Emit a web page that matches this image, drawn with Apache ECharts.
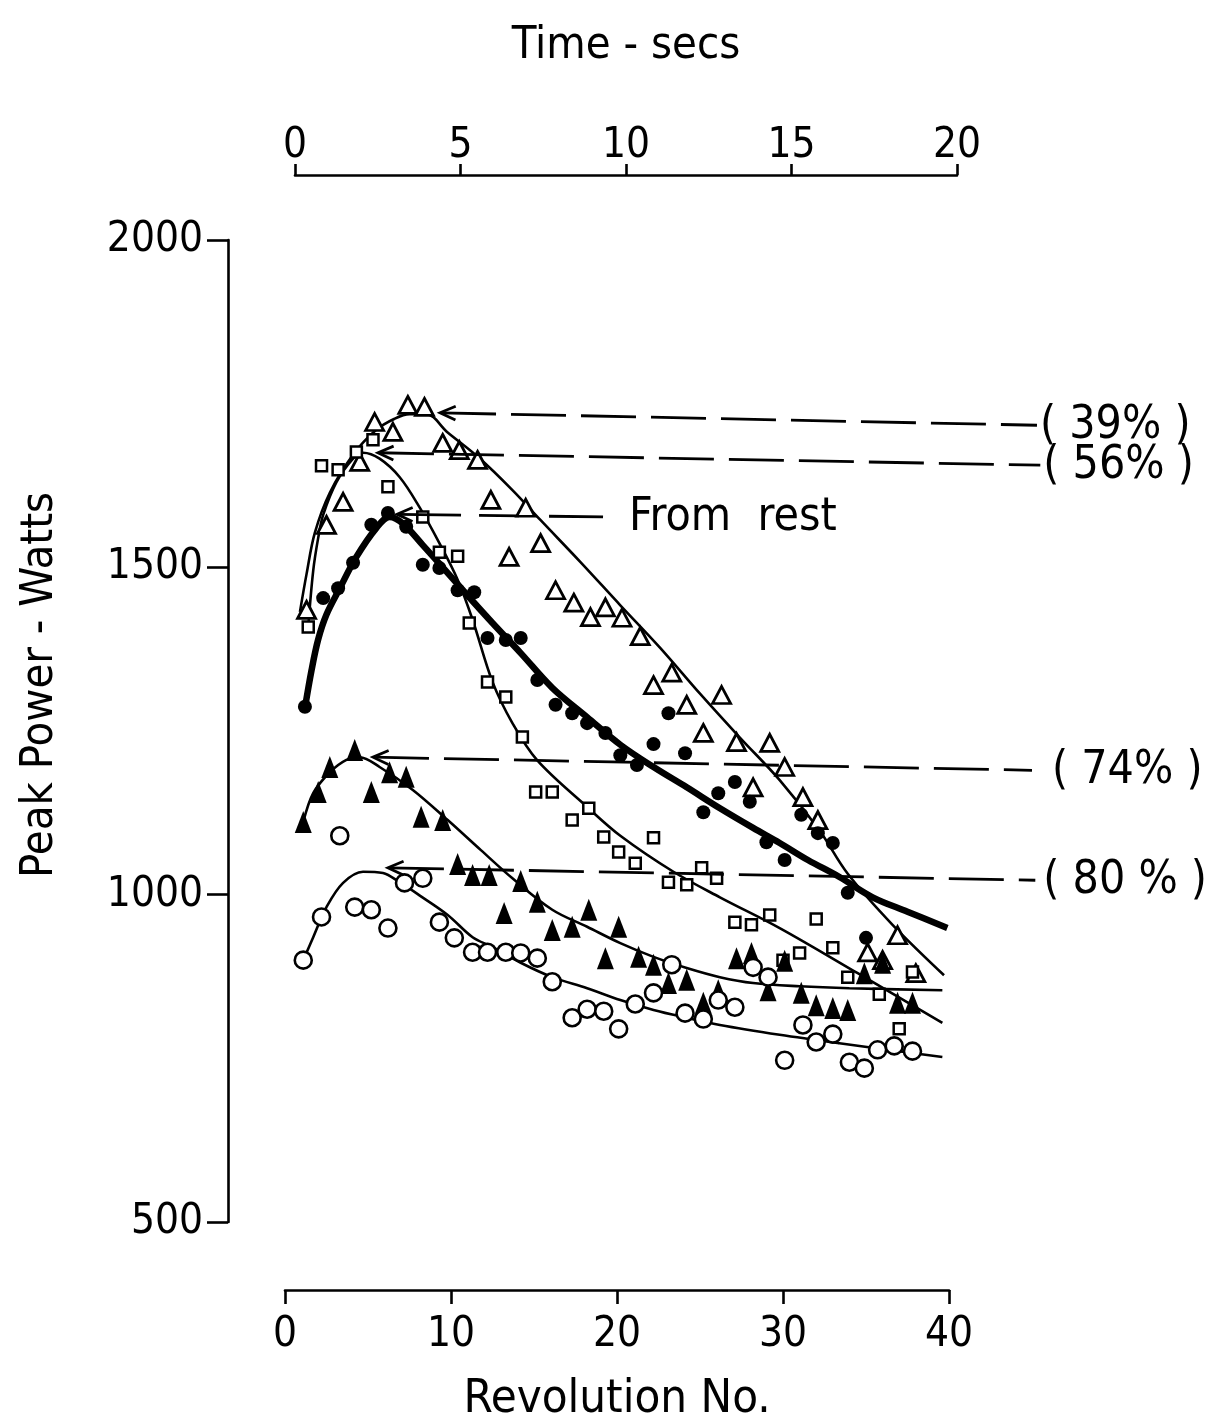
<!DOCTYPE html>
<html><head><meta charset="utf-8">
<script src="https://cdn.jsdelivr.net/npm/echarts@6/dist/echarts.min.js"></script>
<style>html,body{margin:0;padding:0;background:#fff}#c{width:1211px;height:1428px}</style>
</head><body><div id="c"></div>
<script>
const FONT = "'DejaVu Sans Condensed','Liberation Sans Narrow',sans-serif";

// axis ticks
const revTicks = [0, 10, 20, 30, 40];
const timeTicks = [0, 5, 10, 15, 20];
const powerTicks = [500, 1000, 1500, 2000];

// measured points [revolution, watts]
const openTri39 = [[1.3,1435],[2.5,1565],[3.5,1600],[4.5,1661],[5.4,1722],[6.5,1707],[7.4,1748],[8.4,1745],[9.5,1690],[10.5,1679],[11.6,1664],[12.4,1603],[13.5,1516],[14.5,1591],[15.4,1537],[16.3,1465],[17.4,1446],[18.4,1424],[19.3,1439],[20.3,1423],[21.4,1395],[22.2,1320],[23.3,1339],[24.2,1290],[25.2,1247],[26.3,1305],[27.2,1233],[28.2,1164],[29.2,1232],[30.1,1195],[31.2,1149],[32.1,1114],[35.1,912],[36.0,900],[36.9,938],[38.0,880]];
const openSq56 = [[1.4,1409],[2.2,1655],[3.2,1649],[4.3,1676],[5.3,1695],[6.2,1623],[8.3,1577],[9.3,1523],[10.4,1517],[11.1,1415],[12.2,1325],[13.3,1302],[14.3,1241],[15.1,1157],[16.1,1157],[17.3,1114],[18.3,1132],[19.2,1088],[20.1,1065],[21.1,1048],[22.2,1087],[23.1,1019],[24.2,1015],[25.1,1041],[26.0,1025],[27.1,958],[28.1,954],[29.2,969],[30.0,900],[31.0,911],[32.0,963],[33.0,919],[33.9,874],[35.8,848],[37.0,795],[37.8,882]];
const fromRestPts = [[1.2,1287],[2.3,1453],[3.2,1468],[4.1,1507],[5.2,1565],[6.2,1583],[7.3,1562],[8.3,1504],[9.3,1499],[10.4,1465],[11.4,1462],[12.2,1392],[13.3,1389],[14.2,1392],[15.2,1328],[16.3,1290],[17.3,1277],[18.2,1262],[19.3,1247],[20.2,1213],[21.2,1198],[22.2,1230],[23.1,1277],[24.1,1216],[25.2,1126],[26.1,1155],[27.1,1172],[28.0,1142],[29.0,1080],[30.1,1053],[31.1,1122],[32.1,1094],[33.0,1079],[33.9,1003],[35.0,934]];
const filledTri74 = [[1.1,1111],[2.0,1157],[2.7,1195],[4.2,1221],[5.2,1157],[6.3,1187],[7.3,1180],[8.2,1119],[9.5,1114],[10.4,1047],[11.3,1030],[12.3,1030],[13.2,972],[14.2,1021],[15.2,989],[16.1,946],[17.3,951],[18.3,977],[19.3,903],[20.1,951],[21.3,905],[22.2,893],[23.1,865],[24.2,870],[25.2,835],[26.1,854],[27.2,903],[28.1,911],[29.1,854],[30.1,899],[31.1,850],[32.0,831],[33.0,827],[33.9,824],[34.9,880],[36.0,896],[36.9,835],[37.8,835]];
const openCirc80 = [[1.1,900],[2.2,966],[3.3,1090],[4.2,981],[5.2,977],[6.2,949],[7.2,1018],[8.3,1025],[9.3,958],[10.2,934],[11.3,912],[12.2,912],[13.3,912],[14.2,911],[15.2,903],[16.1,867],[17.3,812],[18.2,825],[19.2,822],[20.1,795],[21.1,833],[22.2,850],[23.3,893],[24.1,819],[25.2,810],[26.1,839],[27.1,828],[28.2,889],[29.1,874],[30.1,747],[31.2,801],[32.0,775],[33.0,787],[34.0,744],[34.9,735],[35.7,763],[36.7,769],[37.8,761]];

// fitted curves [revolution, watts]
const curve39 = [[0.9,1432],[1.3,1490],[1.8,1553],[2.7,1614],[4.1,1672],[5.5,1710],[6.6,1727],[7.5,1734],[8.5,1734],[9.8,1706],[11.7,1667],[13.7,1618],[15.4,1572],[17.8,1508],[20.2,1442],[22.6,1377],[25.0,1307],[27.4,1240],[29.8,1175],[32.2,1098],[33.9,1032],[36.6,954],[39.7,877]];
const curve56 = [[1.4,1409],[1.7,1495],[2.0,1545],[2.3,1580],[3.1,1630],[4.1,1666],[4.7,1675],[5.7,1666],[6.9,1638],[8.1,1592],[9.3,1537],[10.4,1481],[11.3,1420],[12.5,1325],[13.7,1262],[15.2,1205],[18.2,1134],[20.2,1090],[23.4,1035],[26.2,996],[29.8,949],[34.5,880],[39.6,804]];
const curveRest = [[1.2,1285],[1.6,1343],[2.0,1390],[2.5,1428],[3.3,1468],[4.3,1516],[5.5,1560],[6.3,1577],[7.1,1567],[8.3,1534],[9.5,1500],[11.0,1457],[12.5,1415],[14.2,1369],[16.1,1316],[18.2,1271],[20.2,1229],[22.2,1195],[24.2,1164],[26.2,1132],[28.2,1102],[29.8,1079],[31.5,1053],[33.4,1027],[35.4,996],[37.5,974],[39.9,949]];
const curve74 = [[1.1,1111],[1.7,1155],[2.7,1187],[3.7,1206],[4.5,1210],[5.7,1195],[7.7,1160],[9.8,1114],[11.8,1068],[13.7,1025],[16.1,977],[18.2,951],[20.2,926],[22.2,905],[24.2,888],[26.2,874],[28.2,865],[31.0,860],[34.0,857],[39.6,854]];
const curve80 = [[1.1,900],[1.7,935],[2.5,981],[3.5,1018],[4.7,1035],[5.9,1033],[6.9,1019],[8.1,999],[9.8,969],[11.3,935],[12.5,920],[14.2,896],[16.1,874],[18.2,857],[20.2,839],[22.2,824],[24.2,812],[26.2,801],[29.8,786],[33.4,773],[39.6,752]];

// annotation arrows: tip and far end in data coordinates
const annotations = [
  {label:'( 39% )', tip:[9.34,1736], end:[45.3,1717], dash:[55,15], gap:3},
  {label:'( 56% )', tip:[5.6,1675], end:[45.5,1656], dash:[55,15], gap:3},
  {label:'From  rest', tip:[6.75,1581], end:[19.16,1577], dash:[63,18,40,30,60], gap:26},
  {label:'( 74% )', tip:[5.3,1210], end:[45.0,1190], dash:[55,15], gap:20},
  {label:'( 80 % )', tip:[6.2,1041], end:[45.2,1022], dash:[55,15], gap:8}
];

const chart = echarts.init(document.getElementById('c'), null, {renderer:'canvas'});
const axisLineStyle = {color:'#000', width:2.6};
const labelStyle = {color:'#000', fontFamily:FONT, fontSize:42};

function lineSeries(data, w){
  return {type:'line', xAxisIndex:0, yAxisIndex:0, data:data, smooth:0.35, showSymbol:false, symbol:'none',
    lineStyle:{color:'#000', width:w, opacity:1}, z:2, silent:true};
}
function scatterSeries(data, symbol, size, filled, bw){
  return {type:'scatter', xAxisIndex:0, yAxisIndex:0, data:data, symbol:symbol, symbolSize:size,
    itemStyle: filled ? {color:'#000', borderWidth:0, opacity:1} : {color:'#fff', borderColor:'#000', borderWidth:bw, opacity:1},
    z:4, silent:true};
}

chart.setOption({
  animation:false,
  backgroundColor:'#fff',
  grid:[
    {left:285, top:240, width:664, height:982, containLabel:false, outerBoundsMode:'none'},
    {left:295, top:175, width:662, height:1, containLabel:false, outerBoundsMode:'none'}
  ],
  xAxis:[
    {type:'value', gridIndex:0, position:'bottom', offset:68, min:revTicks[0], max:revTicks[revTicks.length-1], interval:10,
     axisLine:{show:true, onZero:false, lineStyle:axisLineStyle}, axisTick:{show:true, length:14, lineStyle:axisLineStyle},
     axisLabel:Object.assign({margin:24, formatter:v=>revTicks.includes(v)?String(v):''}, labelStyle), splitLine:{show:false},
     name:'Revolution No.', nameLocation:'middle', nameGap:86, nameMoveOverlap:false,
     nameTextStyle:{color:'#000', fontFamily:FONT, fontSize:47}},
    {type:'value', gridIndex:1, position:'top', min:timeTicks[0], max:timeTicks[timeTicks.length-1], interval:5,
     axisLine:{show:true, onZero:false, lineStyle:axisLineStyle}, axisTick:{show:true, length:11, lineStyle:axisLineStyle},
     axisLabel:Object.assign({margin:8, formatter:v=>timeTicks.includes(v)?String(v):''}, labelStyle), splitLine:{show:false},
     name:'Time - secs', nameLocation:'middle', nameGap:106, nameMoveOverlap:false,
     nameTextStyle:{color:'#000', fontFamily:FONT, fontSize:45}}
  ],
  yAxis:[
    {type:'value', gridIndex:0, position:'left', offset:57, min:powerTicks[0], max:powerTicks[powerTicks.length-1], interval:500,
     axisLine:{show:true, onZero:false, lineStyle:axisLineStyle}, axisTick:{show:true, length:21, lineStyle:axisLineStyle},
     axisLabel:Object.assign({margin:25, formatter:v=>powerTicks.includes(v)?String(v):''}, labelStyle), splitLine:{show:false}},
    {type:'value', gridIndex:1, show:false, min:0, max:1}
  ],
  series:[
    lineSeries(curve39, 2.6),
    lineSeries(curve56, 2.6),
    lineSeries(curve74, 2.6),
    lineSeries(curve80, 2.6),
    lineSeries(curveRest, 6.5),
    scatterSeries(openTri39, 'triangle', [18,17], false, 2.8),
    scatterSeries(openSq56, 'rect', 11, false, 2.5),
    scatterSeries(fromRestPts, 'circle', 14, true),
    scatterSeries(filledTri74, 'triangle', [17,22], true),
    scatterSeries(openCirc80, 'circle', 17, false, 2.6)
  ]
});

function buildGraphics(){
  const g = [];
  annotations.forEach(a => {
    const p0 = chart.convertToPixel({gridIndex:0}, a.tip);
    const p1 = chart.convertToPixel({gridIndex:0}, a.end);
    const ang = Math.atan2(p1[1]-p0[1], p1[0]-p0[0]);
    g.push({type:'line', silent:true, z:10, shape:{x1:p0[0]+1, y1:p0[1], x2:p1[0], y2:p1[1]},
      style:{stroke:'#000', lineWidth:2.8, lineDash:a.dash}});
    const L = 17, s = 0.42;
    g.push({type:'polyline', silent:true, z:10, shape:{points:[
      [p0[0]+L*Math.cos(ang-s), p0[1]+L*Math.sin(ang-s)], [p0[0], p0[1]],
      [p0[0]+L*Math.cos(ang+s), p0[1]+L*Math.sin(ang+s)]]},
      style:{stroke:'#000', lineWidth:2.8, fill:null}});
    g.push({type:'text', silent:true, z:10, x:p1[0]+a.gap, y:p1[1]+1,
      style:{text:a.label, fontFamily:FONT, fontSize:46, fill:'#000', align:'left', verticalAlign:'middle'}});
  });
  g.push({type:'text', silent:true, z:10, x:40, y:685, rotation:Math.PI/2,
    style:{text:'Peak Power - Watts', fontFamily:FONT, fontSize:45, fill:'#000', align:'center', verticalAlign:'middle'}});
  chart.setOption({graphic:g});
}
buildGraphics();
</script></body></html>
